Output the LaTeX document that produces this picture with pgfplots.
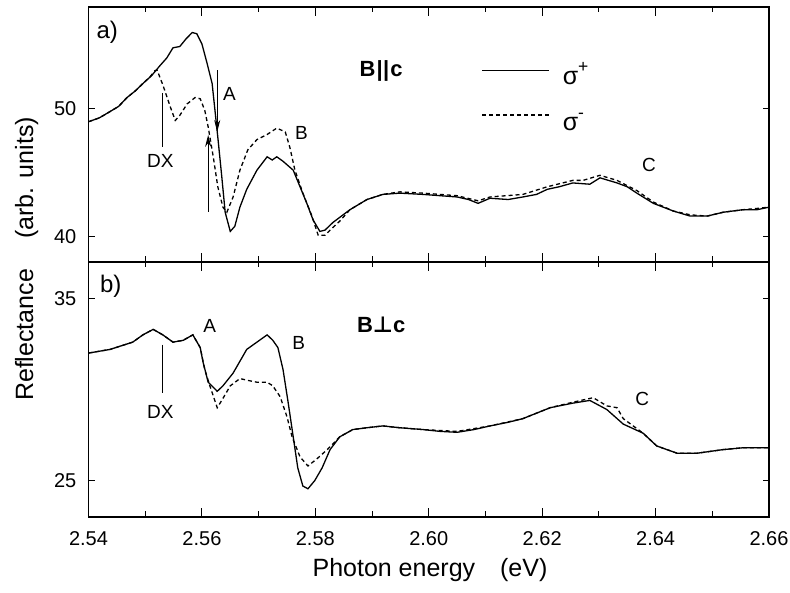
\documentclass[border=0pt]{standalone}
\usepackage{fontspec}
\setmainfont{Liberation Sans}
\newfontfamily\djv{DejaVu Sans}
\usepackage{pgfplots}
\pgfplotsset{compat=1.18}
\usetikzlibrary{arrows.meta}
\newcommand\ticksize{\fontsize{20bp}{22bp}\selectfont}
\newcommand\labsize{\fontsize{19bp}{21bp}\selectfont}
\pgfplotsset{
  panel/.style={
    scale only axis, width=680.5bp, height=255bp,
    xmin=2.54, xmax=2.66,
    xtick={2.54,2.56,2.58,2.60,2.62,2.64,2.66},
    minor xtick={2.55,2.57,2.59,2.61,2.63,2.65},
    tick align=inside,
    major tick length=9bp, minor tick length=5.5bp,
    axis line style={line width=1.2bp},
    every tick/.style={line width=1bp, black},
    tick label style={font=\ticksize},
    /pgf/number format/assume math mode=true,
    ytick=\empty,
    every extra y tick/.style={major tick length=6.5bp},
    yticklabel style={anchor=east, inner sep=0pt, xshift=-12bp},
    xticklabel style={anchor=north, inner sep=0pt, yshift=-14bp,
      /pgf/number format/fixed, /pgf/number format/precision=2,
      /pgf/number format/fixed zerofill},
    clip=true,
  },
  sp/.style={black, line width=1.3bp, no marks},
  sm/.style={black, line width=1.3bp, no marks, dash pattern=on 4bp off 3bp},
}
\begin{document}
\begin{tikzpicture}[x=1bp,y=1bp]
\path[use as bounding box] (0,0) rectangle (790,593);
% ---------- top panel ----------
\begin{axis}[panel, at={(88.5bp,331bp)}, anchor=south west,
  ymin=38, ymax=58, xticklabels={},
  minor ytick={38,42,44,46,48,52,54,56,58},
  extra y ticks={40,50}, extra y tick labels={40,50}]
\addplot[sp] coordinates {
(2.5400,49.0) (2.5419,49.3) (2.5438,49.8) (2.5453,50.2) (2.5468,50.9) (2.5482,51.4)
(2.5496,52.0) (2.5511,52.6) (2.5526,53.4) (2.5538,54.0) (2.5549,54.8) (2.5561,54.9)
(2.5572,55.5) (2.5583,56.0) (2.5591,55.9) (2.5600,55.1) (2.5609,53.6) (2.5618,52.0)
(2.5623,49.9) (2.5628,47.8) (2.5635,44.7) (2.5641,41.9) (2.5650,40.4) (2.5658,40.8)
(2.5667,42.3) (2.5679,43.7) (2.5697,45.2) (2.5715,46.25) (2.5724,46.0) (2.5732,46.25)
(2.5743,45.9) (2.5761,45.2) (2.5773,43.9) (2.5785,42.6) (2.5796,41.3) (2.5808,40.4)
(2.5817,40.5) (2.5831,41.1) (2.5846,41.6) (2.5861,42.1) (2.5876,42.5) (2.5891,42.9)
(2.5905,43.1) (2.5919,43.3) (2.5949,43.4) (2.5990,43.3) (2.6020,43.2) (2.6050,43.1)
(2.6070,42.9) (2.6087,42.6) (2.6108,43.0) (2.6140,42.9) (2.6166,43.1) (2.6190,43.3)
(2.6209,43.7) (2.6230,43.9) (2.6254,44.2) (2.6284,44.1) (2.6302,44.6) (2.6332,44.2)
(2.6350,43.9) (2.6367,43.4) (2.6396,42.6) (2.6431,42.0) (2.6461,41.6) (2.6491,41.6)
(2.6519,41.9) (2.6554,42.1) (2.6579,42.1) (2.6600,42.3)};
\addplot[sm] coordinates {
(2.5400,49.0) (2.5419,49.3) (2.5438,49.8) (2.5453,50.2) (2.5468,50.9) (2.5482,51.4)
(2.5496,52.0) (2.5508,52.5) (2.5517,53.0) (2.5521,53.05)
(2.5531,51.9) (2.5544,50.2) (2.5553,49.1) (2.5561,49.5) (2.5574,50.4) (2.5588,50.9)
(2.5597,50.8) (2.5605,49.9) (2.5611,48.6) (2.5620,46.25) (2.5628,43.9) (2.5637,42.3)
(2.5644,41.9) (2.5655,43.1) (2.5667,45.2) (2.5681,46.8) (2.5697,47.6) (2.5715,48.0)
(2.5732,48.5) (2.5747,48.2) (2.5755,47.0) (2.5764,45.2) (2.5778,43.4) (2.5794,41.6)
(2.5805,40.1) (2.5817,40.1) (2.5826,40.5) (2.5843,41.2) (2.5861,42.1) (2.5891,42.9)
(2.5919,43.3) (2.5949,43.5) (2.5990,43.4) (2.6050,43.2) (2.6087,42.8) (2.6108,43.1)
(2.6166,43.3) (2.6209,43.9) (2.6254,44.4) (2.6272,44.4) (2.6302,44.8) (2.6332,44.4)
(2.6367,43.6) (2.6396,42.7) (2.6431,42.0) (2.6461,41.7) (2.6491,41.6) (2.6519,41.9)
(2.6554,42.1) (2.6579,42.2) (2.6600,42.3)};
% annotations
\node[anchor=base west, inner sep=0pt, font=\fontsize{24bp}{26bp}\selectfont] at (axis cs:2.5414,55.55) {a)};
\node[inner sep=0pt, font=\fontsize{22bp}{24bp}\selectfont\bfseries] at (axis cs:2.5916,53.0) {B\kern1bp|\kern0.5bp|\kern1bp c};
\draw[line width=1.1bp] (axis cs:2.6094,53.05) -- (axis cs:2.6212,53.05);
\draw[line width=1.1bp, dash pattern=on 4bp off 3bp] (axis cs:2.6094,49.53) -- (axis cs:2.6212,49.53);
\node[anchor=base west, inner sep=0pt, font=\fontsize{25bp}{27bp}\selectfont] at (axis cs:2.6236,51.9) {σ\raisebox{3bp}{\textsuperscript{+}}};
\node[anchor=base west, inner sep=0pt, font=\fontsize{25bp}{27bp}\selectfont] at (axis cs:2.6236,48.35) {σ\raisebox{3bp}{\textsuperscript{-}}};
\node[anchor=base west, inner sep=0pt, font=\labsize] at (axis cs:2.5637,50.7) {A};
\draw[line width=1.1bp, -{Stealth[length=12bp,width=6bp]}] (axis cs:2.5627,53.05) -- (axis cs:2.5627,48.2);
\draw[line width=1.1bp, -{Stealth[length=12bp,width=6bp]}] (axis cs:2.5611,41.95) -- (axis cs:2.5611,47.97);
\draw[line width=1bp] (axis cs:2.5531,51.25) -- (axis cs:2.5531,47.0);
\node[anchor=base west, inner sep=0pt, font=\labsize] at (axis cs:2.5503,45.4) {DX};
\node[anchor=base west, inner sep=0pt, font=\labsize] at (axis cs:2.5764,47.6) {B};
\node[anchor=base west, inner sep=0pt, font=\labsize] at (axis cs:2.6376,45.1) {C};
\end{axis}
% ---------- bottom panel ----------
\begin{axis}[panel, at={(88.5bp,76bp)}, anchor=south west,
  ymin=23, ymax=37,
  minor ytick={23,27,29,31,33,37},
  extra y ticks={25,35}, extra y tick labels={25,35}]
\addplot[sp] coordinates {
(2.5400,32.0) (2.5419,32.1) (2.5438,32.2) (2.5458,32.4) (2.5478,32.6) (2.5496,33.0)
(2.5514,33.3) (2.5531,33.0) (2.5549,32.6) (2.5567,32.7) (2.5584,33.0) (2.5597,32.3)
(2.5602,31.5) (2.5611,30.4) (2.5627,29.9) (2.5637,30.2) (2.5655,30.9) (2.5679,32.2)
(2.5697,32.6) (2.5715,33.0) (2.5725,32.7) (2.5734,32.3) (2.5743,31.1) (2.5752,29.3)
(2.5761,27.4) (2.5769,25.7) (2.5778,24.7) (2.5787,24.55) (2.5799,25.0) (2.5812,25.7)
(2.5826,26.7) (2.5843,27.4) (2.5866,27.8) (2.5891,27.9) (2.5919,28.0) (2.5949,27.9)
(2.5990,27.8) (2.6020,27.7) (2.6050,27.65) (2.6080,27.8) (2.6108,28.0) (2.6140,28.2)
(2.6166,28.4) (2.6190,28.7) (2.6214,29.0) (2.6254,29.25) (2.6284,29.4) (2.6314,28.9)
(2.6343,28.1) (2.6378,27.6) (2.6402,26.9) (2.6438,26.5) (2.6473,26.5) (2.6519,26.7)
(2.6554,26.8) (2.6579,26.8) (2.6600,26.8)};
\addplot[sm] coordinates {
(2.5400,32.0) (2.5419,32.1) (2.5438,32.2) (2.5458,32.4) (2.5478,32.6) (2.5496,33.0)
(2.5514,33.3) (2.5531,33.0) (2.5549,32.6) (2.5567,32.7) (2.5584,33.0) (2.5597,32.3)
(2.5605,31.1) (2.5614,30.2) (2.5627,29.0) (2.5635,29.4) (2.5650,30.2) (2.5667,30.6)
(2.5681,30.5) (2.5697,30.4) (2.5715,30.4) (2.5725,30.2) (2.5738,29.6) (2.5750,28.5)
(2.5759,27.4) (2.5773,26.3) (2.5787,25.8) (2.5803,26.2) (2.5821,26.7) (2.5843,27.4)
(2.5866,27.8) (2.5891,27.9) (2.5919,28.0) (2.5949,27.9) (2.5990,27.8) (2.6050,27.7)
(2.6108,28.0) (2.6166,28.4) (2.6214,29.0) (2.6254,29.3) (2.6290,29.55) (2.6314,29.1)
(2.6332,29.0) (2.6343,28.4) (2.6378,27.6) (2.6402,26.9) (2.6438,26.5) (2.6473,26.5)
(2.6519,26.7) (2.6554,26.8) (2.6579,26.8) (2.6600,26.8)};
\node[anchor=base west, inner sep=0pt, font=\fontsize{24bp}{26bp}\selectfont] at (axis cs:2.5420,35.33) {b)};
\node[inner sep=0pt, font=\fontsize{22bp}{24bp}\selectfont\bfseries] at (axis cs:2.5916,33.56) {B{\djv\bfseries ⊥}c};
\node[anchor=base west, inner sep=0pt, font=\labsize] at (axis cs:2.5602,33.12) {A};
\node[anchor=base west, inner sep=0pt, font=\labsize] at (axis cs:2.5759,32.18) {B};
\draw[line width=1bp] (axis cs:2.5531,32.46) -- (axis cs:2.5531,29.8);
\node[anchor=base west, inner sep=0pt, font=\labsize] at (axis cs:2.5503,28.43) {DX};
\node[anchor=base west, inner sep=0pt, font=\labsize] at (axis cs:2.6364,29.14) {C};
\end{axis}
% axis labels
\node[rotate=90, anchor=base, inner sep=0pt, font=\fontsize{25bp}{27bp}\selectfont] at (33,334) {Reflectance\hspace{1.2em}(arb. units)};
\node[anchor=base, inner sep=0pt, font=\fontsize{25bp}{27bp}\selectfont] at (430,16) {Photon energy\hspace{1em}(eV)};
\end{tikzpicture}
\end{document}
